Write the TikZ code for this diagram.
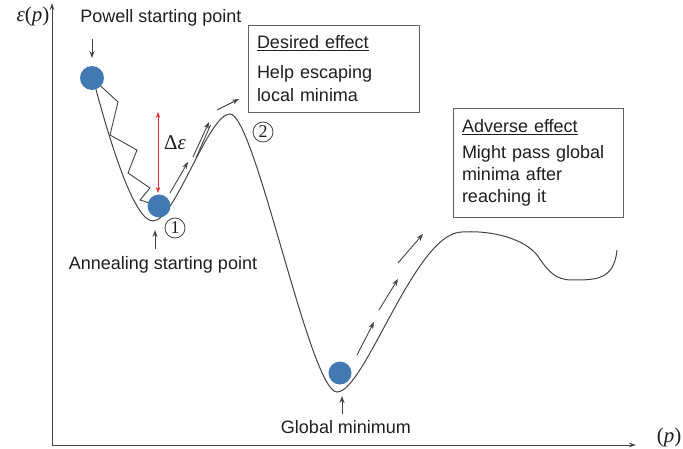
\documentclass[tikz,border=0pt]{standalone}
\usepackage{fontspec}
\setmainfont{Liberation Sans}
\newfontfamily\serifface{Liberation Serif}
\usetikzlibrary{arrows.meta}
\definecolor{ballblue}{RGB}{66,121,178}
\definecolor{ink}{RGB}{68,68,68}
\definecolor{deltared}{RGB}{228,48,48}
\definecolor{textink}{RGB}{30,30,30}

\begin{document}
\begin{tikzpicture}[x=1pt,y=-1pt,
  every node/.style={inner sep=0pt, outer sep=0pt},
  lbl/.style={font=\fontsize{18}{22}\selectfont, text=textink},
  mathlbl/.style={font=\serifface\fontsize{21}{21}\selectfont, text=textink},
  ball/.style={circle, fill=ballblue, minimum size=#1},
  ball/.default=23pt,
  axisline/.style={draw=ink, line width=0.8pt, -{Stealth[length=7pt,width=4.5pt]}},
  pointer/.style={draw=ink, line width=0.9pt, -{Stealth[length=7pt,width=5pt]}},
  plainline/.style={draw=ink, line width=0.9pt},
  energy/.style={draw=ink, line width=1pt},
  effectbox/.style={draw=ink!85, line width=0.7pt, align=left, anchor=north west,
    inner xsep=9pt, font=\fontsize{18}{23}\selectfont, text=textink},
  num/.style={circle, draw=ink, line width=0.8pt, minimum size=20pt,
    font=\serifface\fontsize{18}{18}\selectfont, text=textink}
]
\useasboundingbox (0,0) rectangle (683,449);

% axes
\coordinate (O) at (52,445);
\coordinate (ytip) at (52,3);
\coordinate (xtip) at (636,445);
\draw[axisline] (O) -- (ytip);
\draw[axisline] (O) -- (xtip);
\node[mathlbl] (ylab) at (33,16) {{\itshape ε}(\textit{p})};
\node[mathlbl] (xlab) at (669,437) {(\textit{p})};

% energy landscape
\draw[energy] (94,82) .. controls (112,150) and (135,221) .. (153,221)
  .. controls (175,221) and (208,114) .. (230,114)
  .. controls (255,114) and (310,392) .. (337,392)
  .. controls (365,392) and (415,232) .. (462,232)
  .. controls (495,230) and (525,240) .. (537,255)
  .. controls (548,271) and (555,280) .. (572,280)
  .. controls (596,280) and (614,280) .. (617,250);

% balls
\node[ball=24pt] (pw) at (92,78) {};
\node[ball=23pt] (b1) at (159,206) {};
\node[ball=23pt] (gm) at (340,373) {};

% descent of the Powell search
\draw[plainline] (pw) -- (118,102) -- (110,135) -- (137,150) -- (128,173)
  -- (150,188) -- (140,200) -- (b1);

% energy barrier
\coordinate (dtop) at (158,112);
\coordinate (dbot) at (158,193);
\draw[deltared, line width=0.6pt,
  {Stealth[length=6pt,width=4.5pt]}-{Stealth[length=6pt,width=4.5pt]}] (dtop) -- (dbot);
\node[font=\serifface\fontsize{21}{21}\selectfont, text=textink] (de) at (175,143)
  {Δ\textit{ε}};

% stage markers
\node[num] (n1) at (175,228) {1};
\node[num] (n2) at (263,132) {2};

% uphill moves out of the local minimum
\coordinate (f1a) at (170,193); \coordinate (f1b) at (188,162);
\coordinate (f2a) at (193,157); \coordinate (f2b) at (209,122);
\coordinate (f2c) at (196,158); \coordinate (f2d) at (210.5,125);
\coordinate (f3a) at (217,110); \coordinate (f3b) at (239,99);
\draw[pointer] (f1a) -- (f1b);
\draw[pointer] (f2a) -- (f2b);
\draw[plainline] (f2c) -- (f2d);
\draw[pointer] (f3a) -- (f3b);

% uphill moves out of the global minimum
\coordinate (g1a) at (357,355); \coordinate (g1b) at (374,322);
\coordinate (g2a) at (379,310); \coordinate (g2b) at (398,279);
\coordinate (g3a) at (398,263); \coordinate (g3b) at (423,234);
\draw[pointer] (g1a) -- (g1b);
\draw[pointer] (g2a) -- (g2b);
\draw[pointer] (g3a) -- (g3b);

% starting points and minimum
\node[lbl] (pwl) at (161,18) {Powell starting point};
\coordinate (pwt) at (92,39);
\draw[pointer, shorten >=8pt] (pwt) -- (pw.north);

\node[lbl] (anl) at (163,265) {Annealing starting point};
\coordinate (ant) at (155,249);
\coordinate (anh) at (155,230);
\draw[pointer] (ant) -- (anh);

\node[lbl] (gml) at (346,427) {Global minimum};
\coordinate (gmt) at (342,414);
\coordinate (gmh) at (342,396);
\draw[pointer] (gmt) -- (gmh);

% effect boxes
\node[effectbox, minimum height=87pt, text width=153pt] (desired) at (248,25)
  {\underline{Desired effect}\\[7pt] Help escaping\\ local minima};
\node[effectbox, minimum height=109pt, text width=152pt,
  font=\fontsize{18}{22}\selectfont] (adverse) at (453,108)
  {\underline{Adverse effect}\\[4pt] Might pass global\\ minima after\\ reaching it};
\end{tikzpicture}
\end{document}
